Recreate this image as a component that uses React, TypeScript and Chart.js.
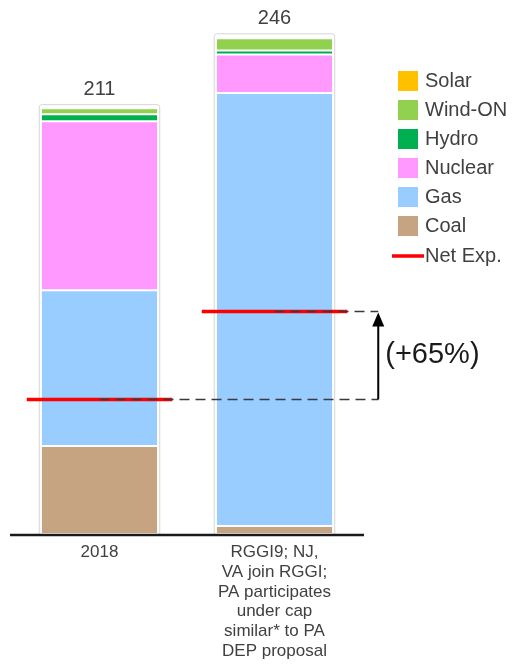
import React, { useEffect, useRef } from "react";
import { Chart, registerables } from "chart.js";

Chart.register(...registerables);

const categories: string[][] = [
  ["2018"],
  ["RGGI9; NJ,", "VA join RGGI;", "PA participates", "under cap", "similar* to PA", "DEP proposal"],
];
const coal = [43.5, 4];
const gas = [77, 214];
const nuclear = [83.5, 19];
const hydro = [3.5, 2];
const windOn = [3, 6];
const solar = [0.5, 1];
const netExp = [66.5, 110];

const seriesNames = ["Coal", "Gas", "Nuclear", "Hydro", "Wind-ON", "Solar"];
const seriesData = [coal, gas, nuclear, hydro, windOn, solar];
const seriesColors = ["#C6A482", "#99CCFF", "#FF99FF", "#00B050", "#92D050", "#FFC000"];
const netExpLabel = "Net Exp.";
const netColor = "#FF0000";

const FONT = '"Liberation Sans", Arial, sans-serif';
const TEXT = "#404040";

const overlay = {
  id: "overlay",
  beforeDatasetsDraw(chart: any) {
    const ctx = chart.ctx;
    const base = chart.getDatasetMeta(0).data;
    const top = chart.getDatasetMeta(seriesData.length - 1).data;
    ctx.save();
    ctx.strokeStyle = "#D6D6D6";
    ctx.lineWidth = 1;
    base.forEach((el: any, i: number) => {
      const w = el.width;
      const x0 = el.x - w / 2 - 3;
      const x1 = el.x + w / 2 + 3;
      const y0 = top[i].y - 3;
      const y1 = el.base;
      ctx.beginPath();
      ctx.moveTo(x0 + 0.5, y1);
      ctx.lineTo(x0 + 0.5, y0 + 3);
      ctx.quadraticCurveTo(x0 + 0.5, y0 + 0.5, x0 + 3, y0 + 0.5);
      ctx.lineTo(x1 - 3, y0 + 0.5);
      ctx.quadraticCurveTo(x1 - 0.5, y0 + 0.5, x1 - 0.5, y0 + 3);
      ctx.lineTo(x1 - 0.5, y1);
      ctx.stroke();
    });
    ctx.restore();
  },
  afterDatasetsDraw(chart: any) {
    const ctx = chart.ctx;
    const y = chart.scales.y;
    const area = chart.chartArea;
    const base = chart.getDatasetMeta(0).data;
    const top = chart.getDatasetMeta(seriesData.length - 1).data;
    ctx.save();

    // totals
    ctx.fillStyle = TEXT;
    ctx.font = `20px ${FONT}`;
    ctx.textAlign = "center";
    ctx.textBaseline = "bottom";
    base.forEach((el: any, i: number) => {
      const total = seriesData.reduce((s, arr) => s + arr[i], 0);
      ctx.fillText(String(Math.round(total)), el.x, top[i].y - 8);
    });

    // axis line
    ctx.strokeStyle = "#1a1a1a";
    ctx.lineWidth = 2.5;
    ctx.beginPath();
    ctx.moveTo(area.left - 2, area.bottom + 1);
    ctx.lineTo(area.right + 2, area.bottom + 1);
    ctx.stroke();

    // x labels
    ctx.fillStyle = TEXT;
    ctx.font = `17px ${FONT}`;
    ctx.textBaseline = "top";
    base.forEach((el: any, i: number) => {
      categories[i].forEach((line, k) => {
        ctx.fillText(line, el.x, area.bottom + 10 + k * 19.7);
      });
    });

    // net export red lines
    const ys = netExp.map((v) => y.getPixelForValue(v));
    ctx.strokeStyle = netColor;
    ctx.lineWidth = 3.5;
    base.forEach((el: any, i: number) => {
      const half = el.width / 2 + 15;
      ctx.beginPath();
      ctx.moveTo(el.x - half, ys[i]);
      ctx.lineTo(el.x + half, ys[i]);
      ctx.stroke();
    });

    // dashed connectors
    const arrowX = base[1].x + base[1].width / 2 + 46;
    ctx.strokeStyle = "#3a3a3a";
    ctx.lineWidth = 1.6;
    ctx.setLineDash([10, 6]);
    ctx.beginPath();
    ctx.moveTo(base[0].x, ys[0]);
    ctx.lineTo(arrowX, ys[0]);
    ctx.moveTo(base[1].x, ys[1]);
    ctx.lineTo(arrowX, ys[1]);
    ctx.stroke();
    ctx.setLineDash([]);

    // arrow
    ctx.strokeStyle = "#000000";
    ctx.fillStyle = "#000000";
    ctx.lineWidth = 2;
    ctx.beginPath();
    ctx.moveTo(arrowX, ys[0]);
    ctx.lineTo(arrowX, ys[1] + 12);
    ctx.stroke();
    ctx.beginPath();
    ctx.moveTo(arrowX, ys[1] + 1);
    ctx.lineTo(arrowX - 6, ys[1] + 15);
    ctx.lineTo(arrowX + 6, ys[1] + 15);
    ctx.closePath();
    ctx.fill();

    // percent label
    const pct = Math.round((netExp[1] / netExp[0] - 1) * 100);
    ctx.fillStyle = "#1a1a1a";
    ctx.font = `29px ${FONT}`;
    ctx.textAlign = "left";
    ctx.textBaseline = "middle";
    ctx.fillText(`(+${pct}%)`, arrowX + 7, (ys[0] + ys[1]) / 2);

    // legend
    const lx = 398;
    const ly = 81;
    const step = 29;
    ctx.font = `20px ${FONT}`;
    ctx.textBaseline = "middle";
    const order = [...seriesNames.keys()].reverse();
    order.forEach((idx, r) => {
      const cy = ly + r * step;
      ctx.fillStyle = seriesColors[idx];
      ctx.fillRect(lx, cy - 10, 20, 20);
      ctx.fillStyle = TEXT;
      ctx.fillText(seriesNames[idx], lx + 27, cy);
    });
    const ny = ly + order.length * step + 1;
    ctx.strokeStyle = netColor;
    ctx.lineWidth = 3.5;
    ctx.beginPath();
    ctx.moveTo(lx - 6, ny);
    ctx.lineTo(lx + 26, ny);
    ctx.stroke();
    ctx.fillStyle = TEXT;
    ctx.fillText(netExpLabel, lx + 27, ny);

    ctx.restore();
  },
};

export default function App() {
  const ref = useRef<HTMLCanvasElement>(null);
  useEffect(() => {
    document.body.style.margin = "0";
    const canvas = ref.current!;
    const chart = new Chart(canvas, {
      type: "bar",
      data: {
        labels: categories.map((c) => c.join(" ")),
        datasets: seriesNames.map((name, i) => ({
          label: name,
          data: seriesData[i],
          backgroundColor: seriesColors[i],
          borderColor: "#FFFFFF",
          borderWidth: { top: 1, bottom: 1, left: 0, right: 0 },
          borderSkipped: false,
          barPercentage: 0.66,
          categoryPercentage: 1,
        })),
      },
      options: {
        responsive: false,
        animation: false,
        layout: { padding: { left: 12, right: 152, top: 8, bottom: 135 } },
        plugins: { legend: { display: false }, tooltip: { enabled: false } },
        scales: {
          x: { stacked: true, display: false },
          y: { stacked: true, display: false, min: 0, max: 260 },
        },
      },
      plugins: [overlay],
    });
    return () => chart.destroy();
  }, []);
  return <canvas ref={ref} width={514} height={669} style={{ display: "block" }} />;
}
